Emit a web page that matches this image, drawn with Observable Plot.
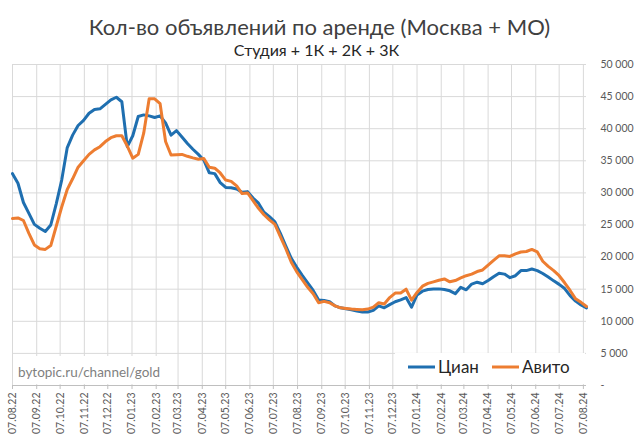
<!DOCTYPE html>
<html><head><meta charset="utf-8">
<script src="https://cdn.jsdelivr.net/npm/d3@7"></script>
<script src="https://cdn.jsdelivr.net/npm/@observablehq/plot@0.6"></script>
<style>body{margin:0;background:#fff} svg{display:block}</style>
</head><body><div id="chart"></div>
<script>
const title = "Кол-во объявлений по аренде (Москва + МО)";
const subtitle = "Студия + 1К + 2К + 3К";
const watermark = "bytopic.ru/channel/gold";
const seriesNames = ["Циан", "Авито"];
const seriesColors = ["#1f6fb0", "#ed7d31"];
const startDate = "2022-08-07"; // first weekly observation, one value per week
const endDate = "2024-08-11";

const cian = [
  33000, 31500, 28500, 26800, 25100, 24500, 24000, 25000, 28300, 32000,
  37000, 39000, 40500, 41300, 42400, 43000, 43100, 43800, 44500, 44900,
  44200, 37200, 38900, 41900, 42150, 42000, 41750, 42000, 40900, 39000,
  39700, 38700, 37700, 36800, 36000, 35100, 33130, 33000, 31600, 30850,
  30800, 30600, 30100, 30200, 29200, 28400, 27000, 26300, 25500, 23700,
  21700, 19800, 18400, 17150, 16000, 14800, 13300, 13250, 13050, 12400,
  12100, 11950, 11800, 11600, 11450, 11450, 11700, 12400, 12100, 12600,
  13050, 13350, 13700, 12200, 14100, 14690, 14950, 15020, 15050, 14950,
  14750, 14300, 15300, 14900, 15800, 16090, 15850, 16350, 16950, 17500,
  17350, 16800, 17100, 17900, 17900, 18150, 17900, 17450, 16900, 16300,
  15750, 15100, 14000, 13150, 12550, 12100
];
const avito = [
  26000, 26100, 25700, 23700, 21900, 21300, 21200, 21800, 24800, 27800,
  30500, 32200, 34000, 35000, 36000, 36700, 37200, 38000, 38600, 38900,
  38900, 37300, 35400, 36000, 39300, 44650, 44650, 43900, 38000, 35900,
  35950, 36000, 35700, 35450, 35250, 35350, 34000, 33850, 33100, 32000,
  31800, 31100, 29900, 30000, 28800, 27600, 26600, 25800, 25100, 23200,
  21300, 19200, 17700, 16500, 15300, 14300, 12900, 13100, 12900, 12400,
  12100, 12000, 11900, 11850, 11800, 11900, 12200, 12900, 12700, 13700,
  14400, 14400, 15000, 13300, 14500, 15470, 15900, 16150, 16400, 16600,
  16150, 16350, 16750, 17100, 17350, 17750, 18000, 18750, 19500, 20200,
  20200, 20100, 20500, 20800, 20870, 21200, 20800, 19350, 18550, 17900,
  17100, 16000, 14800, 13500, 12950, 12300
];
const monthTicks = [
  "2022-08-07","2022-09-07","2022-10-07","2022-11-07","2022-12-07",
  "2023-01-07","2023-02-07","2023-03-07","2023-04-07","2023-05-07",
  "2023-06-07","2023-07-07","2023-08-07","2023-09-07","2023-10-07",
  "2023-11-07","2023-12-07","2024-01-07","2024-02-07","2024-03-07",
  "2024-04-07","2024-05-07","2024-06-07","2024-07-07","2024-08-07"
];
const yTicks = [0, 5000, 10000, 15000, 20000, 25000, 30000, 35000, 40000, 45000, 50000];

const start = new Date(startDate);
const rows = [];
[cian, avito].forEach((vals, s) => vals.forEach((v, i) => rows.push({
  series: seriesNames[s], date: d3.utcDay.offset(start, 7 * i), value: v
})));
const xTickDates = monthTicks.map(d => new Date(d));

const yFormat = d => d === 0 ? "-" : d3.format(",")(d).replace(/,/g, " ");

// white panels behind watermark and legend, plus legend entries
function overlays(index, scales, values, dim) {
  const g = d3.create("svg:g").attr("text-anchor", "start");
  const right = dim.width - dim.marginRight;
  const bottom = dim.height - dim.marginBottom;
  const left = dim.marginLeft;
  g.append("rect").attr("x", left + 1).attr("y", bottom - 29).attr("width", 160).attr("height", 28).attr("fill", "#fff");
  g.append("rect").attr("x", right - 191).attr("y", bottom - 32).attr("width", 190).attr("height", 31).attr("fill", "#fff");
  g.append("text").attr("x", left + 6).attr("y", bottom - 13).attr("dy", "0.35em")
    .attr("text-anchor", "start").attr("font-size", 13.5).attr("fill", "#7f7f7f").text(watermark);
  const items = [{x: right - 178, w: 27}, {x: right - 94, w: 27}];
  seriesNames.forEach((name, i) => {
    const it = items[i];
    g.append("line").attr("x1", it.x).attr("x2", it.x + it.w).attr("y1", bottom - 18).attr("y2", bottom - 18)
      .attr("stroke", seriesColors[i]).attr("stroke-width", 3);
    g.append("text").attr("x", it.x + it.w + 3).attr("y", bottom - 18).attr("dy", "0.35em")
      .attr("text-anchor", "start").attr("font-size", 17).attr("fill", "#262626").text(name);
  });
  return g.node();
}

const chart = Plot.plot({
  width: 638, height: 441,
  marginLeft: 12, marginRight: 52, marginTop: 64, marginBottom: 56,
  style: {fontFamily: "Lato, 'Open Sans', sans-serif", background: "#fff", overflow: "visible"},
  x: {type: "utc", domain: [new Date(startDate), new Date(endDate)]},
  y: {domain: [0, 50000]},
  color: {domain: seriesNames, range: seriesColors},
  marks: [
    Plot.gridX(xTickDates, {stroke: "#d9d9d9", strokeOpacity: 1}),
    Plot.gridY(yTicks, {stroke: "#d9d9d9", strokeOpacity: 1}),
    overlays,
    Plot.ruleY([0], {stroke: "#bfbfbf"}),
    Plot.axisX(xTickDates, {
      tickRotate: -90, tickFormat: d3.utcFormat("%d.%m.%y"), tickSize: 4, tickPadding: 3,
      stroke: "#bfbfbf", fill: "#595959", fontSize: 10.5, label: null
    }),
    Plot.axisY(yTicks, {
      anchor: "right", tickSize: 0, tickPadding: 14, textAnchor: "start",
      tickFormat: yFormat, fill: "#595959", fontSize: 10.5, label: null
    }),
    Plot.line(rows, {x: "date", y: "value", z: "series", stroke: "series", strokeWidth: 3, strokeLinejoin: "round", strokeLinecap: "round"}),
    Plot.text([title], {text: d => d, frameAnchor: "top", dx: 20, dy: -45, fontSize: 22, fill: "#404040"}),
    Plot.text([subtitle], {text: d => d, frameAnchor: "top", dx: 17, dy: -20, fontSize: 16, fill: "#262626"})
  ]
});
document.getElementById("chart").appendChild(chart);
</script>
</body></html>
